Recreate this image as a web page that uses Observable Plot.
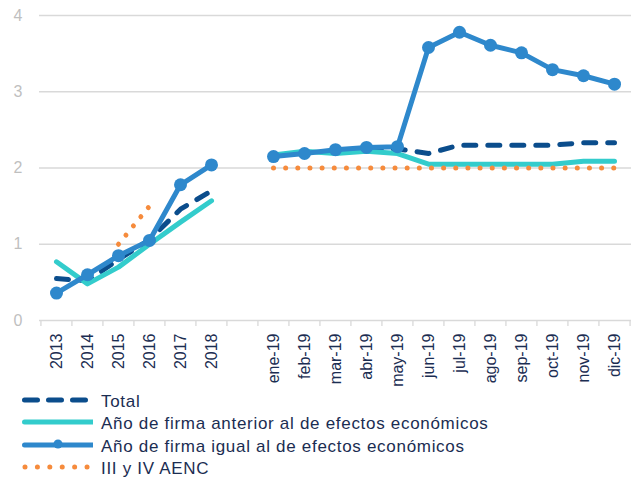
<!DOCTYPE html>
<html>
<head>
<meta charset="utf-8">
<script src="https://cdn.jsdelivr.net/npm/d3@7"></script>
<script src="https://cdn.jsdelivr.net/npm/@observablehq/plot@0.6"></script>
<style>
  html, body { margin: 0; padding: 0; background: #fff; }
  body { width: 638px; height: 484px; overflow: hidden; font-family: "Liberation Sans", Arial, sans-serif; }
  #chart svg { display: block; }
  #legend { margin-top: 2px; }
  .row { height: 22.3px; display: flex; align-items: center; }
  .row svg { flex: none; }
  .row span { margin-left: 8px; font-size: 17px; color: #1b2d52; letter-spacing: 0.7px; white-space: nowrap; }
</style>
</head>
<body>
<div id="chart"></div>
<div id="legend"></div>
<script>
const categories = ["2013","2014","2015","2016","2017","2018"," ",
  "ene-19","feb-19","mar-19","abr-19","may-19","jun-19","jul-19","ago-19","sep-19","oct-19","nov-19","dic-19"];
const periods  = ["anual","anual","anual","anual","anual","anual","gap",
  "mensual","mensual","mensual","mensual","mensual","mensual","mensual","mensual","mensual","mensual","mensual","mensual"];
const total    = [0.55,0.52,0.80,1.06,1.46,1.70,null,2.16,2.20,2.22,2.24,2.25,2.19,2.30,2.30,2.30,2.30,2.33,2.33];
const anterior = [0.77,0.48,0.70,1.00,1.29,1.57,null,2.17,2.22,2.19,2.22,2.19,2.05,2.05,2.05,2.05,2.05,2.09,2.09];
const igual    = [0.36,0.60,0.85,1.05,1.78,2.04,null,2.15,2.19,2.24,2.27,2.28,3.58,3.78,3.61,3.51,3.29,3.21,3.10];
const aenc     = [null,null,1.00,1.50,null,null,null,2.00,2.00,2.00,2.00,2.00,2.00,2.00,2.00,2.00,2.00,2.00,2.00];
const yTicks = [0,1,2,3,4];
const seriesNames = ["Total","Año de firma anterior al de efectos económicos","Año de firma igual al de efectos económicos","III y IV AENC"];
const colors = {total:"#0b4d8c", anterior:"#33cccc", igual:"#2e88cc", aenc:"#f68b3c"};

const rows = categories.map((c, i) => ({cat: c, period: periods[i], total: total[i], anterior: anterior[i], igual: igual[i], aenc: aenc[i]}));

const W = 638, H = 389, ML = 39, MR = 7, MT = 15, MB = 69;
const step = (W - ML - MR) / categories.length;
const unit = (H - MT - MB) / 4;
// dotted pattern spacing so that a dot lands (almost) on both ends of each orange segment
const segA = Math.hypot(step, 0.5 * unit), gapA = (segA - 2) / 4;
const segB = 11 * step, gapB = (segB - 2.5) / 28;

const chart = Plot.plot({
  width: W, height: H,
  marginTop: MT, marginLeft: ML, marginRight: MR, marginBottom: MB,
  style: {fontFamily: "Liberation Sans, Arial, sans-serif", background: "#fff", overflow: "visible"},
  x: {type: "point", domain: categories, padding: 0.5, align: 0.5, label: null},
  y: {domain: [0, 4], label: null},
  marks: [
    Plot.gridY(yTicks, {stroke: "#d9d9d9", strokeOpacity: 1, strokeWidth: 1.3}),
    Plot.ruleX(categories, {x: d => d, y1: 0, y2: 0, insetBottom: -6, dx: -step / 2, stroke: "#d9d9d9", strokeWidth: 1.3}),
    Plot.ruleX([categories[categories.length - 1]], {x: d => d, y1: 0, y2: 0, insetBottom: -6, dx: step / 2, stroke: "#d9d9d9", strokeWidth: 1.3}),
    Plot.axisY(yTicks, {tickSize: 0, tickPadding: 17, fill: "#bfbfbf", fontSize: 16, tickFormat: d => String(d), label: null}),
    Plot.axisX({tickSize: 0, tickPadding: 13, tickRotate: -90, fill: "#1b2d52", fontSize: 16, letterSpacing: 1.5, label: null}),
    Plot.line(rows, {x: "cat", y: "total", z: "period", stroke: colors.total, strokeWidth: 5, strokeDasharray: "12 12", strokeLinecap: "round"}),
    Plot.line(rows, {x: "cat", y: "anterior", z: "period", stroke: colors.anterior, strokeWidth: 5, strokeLinecap: "round", strokeLinejoin: "round"}),
    Plot.line(rows, {x: "cat", y: "igual", z: "period", stroke: colors.igual, strokeWidth: 5, strokeLinecap: "round", strokeLinejoin: "round"}),
    Plot.dot(rows, {x: "cat", y: "igual", r: 6.5, fill: colors.igual}),
    Plot.line(rows.filter(d => d.period === "anual"), {x: "cat", y: "aenc", stroke: colors.aenc, strokeWidth: 5, strokeDasharray: `0.01 ${gapA - 0.01}`, strokeLinecap: "round"}),
    Plot.line(rows.filter(d => d.period === "mensual"), {x: "cat", y: "aenc", stroke: colors.aenc, strokeWidth: 5, strokeDasharray: `0.01 ${gapB - 0.01}`, strokeLinecap: "round"})
  ]
});
document.getElementById("chart").appendChild(chart);

const swatches = [
  `<line x1="24.5" x2="85.5" y1="9" y2="9" stroke="${colors.total}" stroke-width="5" stroke-dasharray="13 11" stroke-linecap="round"/>`,
  `<line x1="24.5" x2="93" y1="9" y2="9" stroke="${colors.anterior}" stroke-width="5" stroke-linecap="round"/>`,
  `<line x1="24.5" x2="93" y1="9" y2="9" stroke="${colors.igual}" stroke-width="5" stroke-linecap="round"/><circle cx="58" cy="8" r="4.5" fill="${colors.igual}"/>`,
  `<line x1="25" x2="87.1" y1="9" y2="9" stroke="${colors.aenc}" stroke-width="5" stroke-dasharray="0.01 12.4" stroke-linecap="round"/>`
];
const legend = document.getElementById("legend");
seriesNames.forEach((name, i) => {
  const row = document.createElement("div");
  row.className = "row";
  row.innerHTML = `<svg width="93" height="22">${swatches[i]}</svg><span>${name}</span>`;
  legend.appendChild(row);
});
</script>
</body>
</html>
